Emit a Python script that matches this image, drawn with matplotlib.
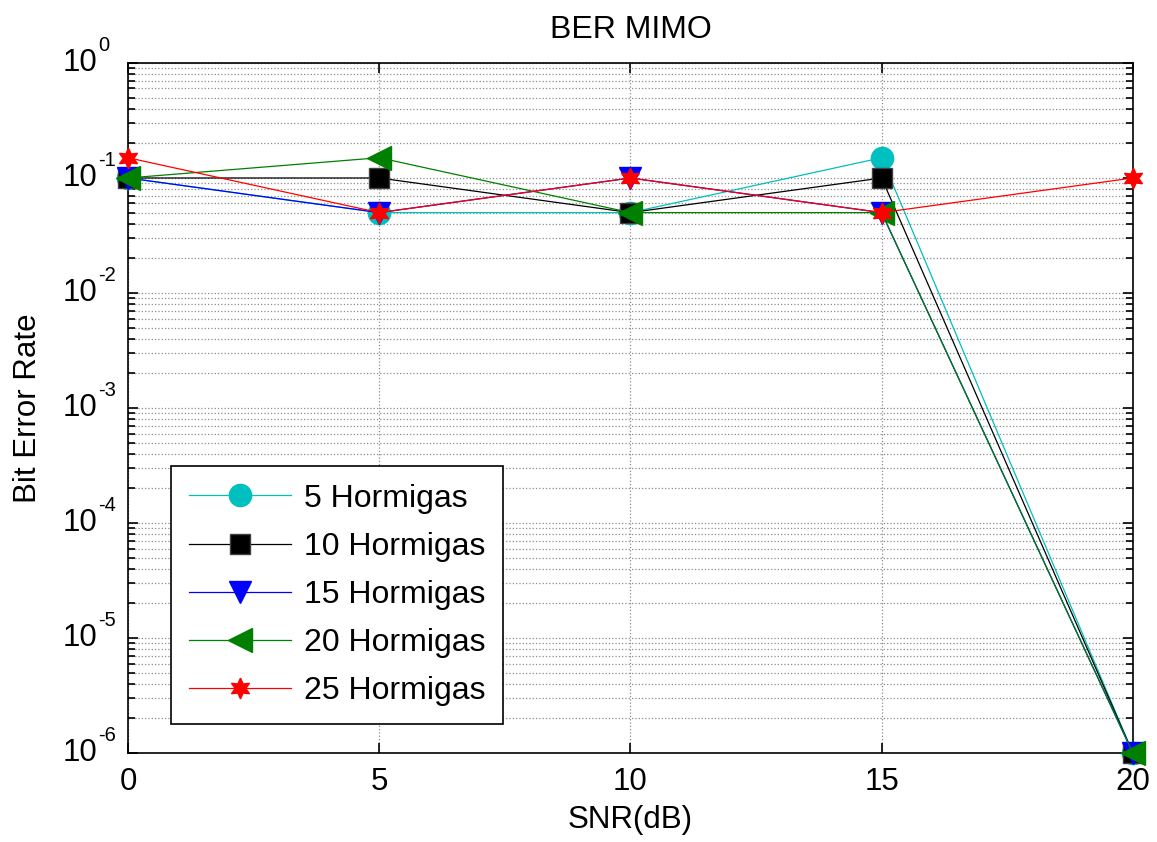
import numpy as np
import matplotlib
matplotlib.use('Agg')
import matplotlib.pyplot as plt
from matplotlib.ticker import FixedLocator, NullFormatter
from matplotlib.transforms import blended_transform_factory, ScaledTranslation

plt.rcParams['font.family'] = ['Liberation Sans', 'DejaVu Sans']

# ---------- Data ----------
snr_db = [0, 5, 10, 15, 20]
ber_5 = [1e-1, 5e-2, 5e-2, 1.5e-1, 1e-6]
ber_10 = [1e-1, 1e-1, 5e-2, 1e-1, 1e-6]
ber_15 = [1e-1, 5e-2, 1e-1, 5e-2, 1e-6]
ber_20 = [1e-1, 1.5e-1, 5e-2, 5e-2, 1e-6]
ber_25 = [1.5e-1, 5e-2, 1e-1, 5e-2, 1e-1]
labels = ['5 Hormigas', '10 Hormigas', '15 Hormigas', '20 Hormigas', '25 Hormigas']
decades = [-6, -5, -4, -3, -2, -1, 0]

# ---------- Plot ----------
fig = plt.figure(figsize=(11.57, 8.42), dpi=100)
ax = fig.add_axes([0.1106, 0.1057, 0.8685, 0.8195])

styles = [
    dict(color='#00bfbf', marker='o', markersize=16),
    dict(color='black', marker='s', markersize=14, markeredgecolor='#404040'),
    dict(color='blue', marker='v', markersize=16),
    dict(color='green', marker='<', markersize=17),
    dict(color='red', marker=(6, 1, 0), markersize=15),
]
for ber, lab, st in zip([ber_5, ber_10, ber_15, ber_20, ber_25], labels, styles):
    ax.semilogy(snr_db, ber, linewidth=0.9, label=lab, clip_on=False, zorder=3, **st)

ax.set_xlim(0, 20)
ax.set_ylim(1e-6, 1)
ax.set_xticks(snr_db)
major_y = [10.0 ** d for d in decades]
minor_y = [m * 10.0 ** d for d in decades[:-1] for m in range(2, 10)]
ax.yaxis.set_major_locator(FixedLocator(major_y))
ax.yaxis.set_minor_locator(FixedLocator(minor_y))
ax.yaxis.set_major_formatter(NullFormatter())
ax.yaxis.set_minor_formatter(NullFormatter())

# y tick labels as "10" with a small raised exponent
tr = blended_transform_factory(ax.transAxes, ax.transData)
for d in decades:
    ax.text(0, 10.0 ** d, '10', fontsize=22.5, ha='right', va='center',
            transform=tr + ScaledTranslation(-0.31, 0, fig.dpi_scale_trans))
    ax.text(0, 10.0 ** d, str(d), fontsize=14.5, ha='left', va='baseline',
            transform=tr + ScaledTranslation(-0.30, 0.12, fig.dpi_scale_trans))

ax.grid(True, which='major', color='#8c8c8c', linestyle=':', linewidth=0.9)
ax.grid(True, which='minor', axis='y', color='#8c8c8c', linestyle=':', linewidth=0.9)

ax.tick_params(which='both', direction='in', top=True, right=True, width=1.2)
ax.tick_params(axis='x', labelsize=22.5, pad=10)
ax.tick_params(which='major', length=7)
ax.tick_params(which='minor', length=5)
for sp in ax.spines.values():
    sp.set_linewidth(1.2)

ax.set_title('BER MIMO', fontsize=23, pad=18)
ax.set_xlabel('SNR(dB)', fontsize=22.5, labelpad=6)
ax.set_ylabel('Bit Error Rate', fontsize=22.5)
ax.yaxis.set_label_coords(-0.085, 0.5)

leg = ax.legend(loc='upper left', bbox_to_anchor=(0.0428, 0.416), borderaxespad=0,
                fontsize=23, handlelength=3.2, handletextpad=0.42, fancybox=False,
                edgecolor='black', framealpha=1, labelspacing=0.57, borderpad=0.55)
leg.get_frame().set_linewidth(1.2)

fig.savefig('out.png', dpi=100)
